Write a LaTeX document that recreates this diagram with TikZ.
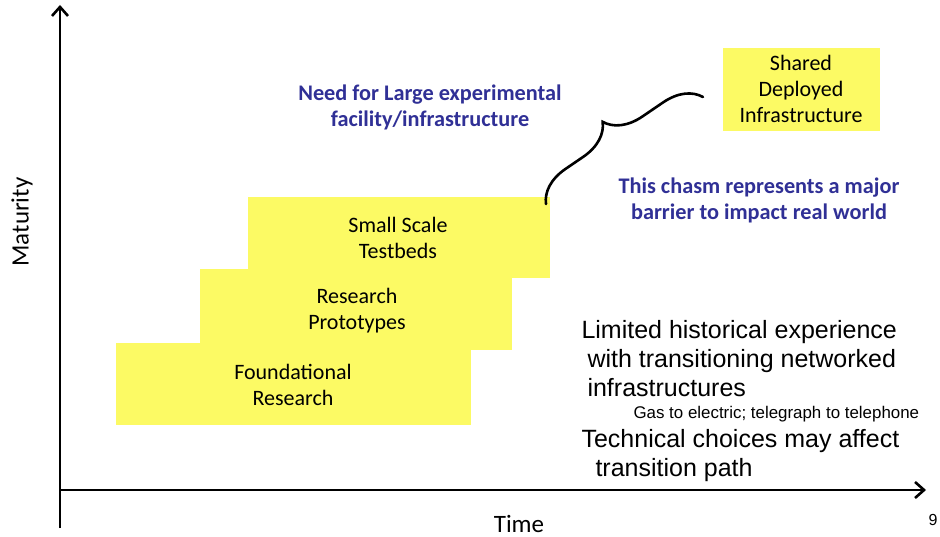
\documentclass[tikz,border=0pt]{standalone}
\usepackage{fontspec}
\setmainfont{Carlito}
\newfontfamily\arialfont{Liberation Sans}
\usetikzlibrary{arrows.meta,decorations.pathreplacing}
\definecolor{stepyellow}{RGB}{252,250,100}
\definecolor{noteblue}{RGB}{48,48,150}
\tikzset{
  stage/.style={fill=stepyellow,draw=none},
  stagetext/.style={align=center,font=\fontsize{22}{26}\selectfont},
  bluenote/.style={align=center,text=noteblue,font=\fontsize{22.3}{26}\selectfont\bfseries},
  blacknote/.style={anchor=west,align=left,font=\arialfont\fontsize{25}{29}\selectfont},
}
\begin{document}
\begin{tikzpicture}[x=1pt,y=-1pt]
\useasboundingbox[fill=white] (0,0) rectangle (940,537);
% axes
\coordinate (O) at (60,490);
\coordinate (Ybot) at (60,528);
\coordinate (Ytop) at (60,5);
\coordinate (Xend) at (926,490);
\draw [line width=2.6pt,-{Straight Barb[length=9pt,width=16pt]}] (Ybot) to (Ytop);
\draw [line width=2.6pt,-{Straight Barb[length=9pt,width=16pt]}] (O) to (Xend);
\node[rotate=90,font=\fontsize{25}{28}\selectfont] (maturity) at (22,222) {Maturity};
\node[font=\fontsize{25}{28}\selectfont] (time) at (519,524) {Time};
\node[font=\arialfont\fontsize{16}{18}\selectfont] (page) at (933,520) {9};
% steps
\fill[stage] (248,197) rectangle (550,278);
\fill[stage] (200,269) rectangle (512,350);
\fill[stage] (116,343) rectangle (471,425);
\fill[stage] (723,48) rectangle (880,131);
\node[stagetext] (testbeds) at (398,238) {Small Scale\\Testbeds};
\node[stagetext] (prototypes) at (357,311) {Research\\Prototypes};
\node[stagetext] (foundational) at (293,385) {Foundational\\Research};
\node[stagetext] (shared) at (801,89) {Shared\\Deployed\\Infrastructure};
% chasm
\node[bluenote] (need) at (430,107) {Need for Large experimental\\facility/infrastructure};
\node[bluenote] (chasm) at (759,200) {This chasm represents a major\\barrier to impact real world};
\coordinate (Bstart) at (546,204);
\coordinate (Bend) at (703,97);
\draw [line width=2.6pt,line cap=round,decorate,decoration={brace,amplitude=36pt,aspect=0.49}] (Bstart) to (Bend);
% notes
\node[blacknote] (limited) at (578,359) {Limited historical experience\\\hspace*{6pt}with transitioning networked\\\hspace*{6pt}infrastructures};
\node[blacknote,font=\arialfont\fontsize{16.9}{19}\selectfont] (gas) at (630,414) {Gas to electric; telegraph to telephone};
\node[blacknote] (technical) at (578,456) {Technical choices may affect\\\hspace*{14pt}transition path};
\end{tikzpicture}
\end{document}
